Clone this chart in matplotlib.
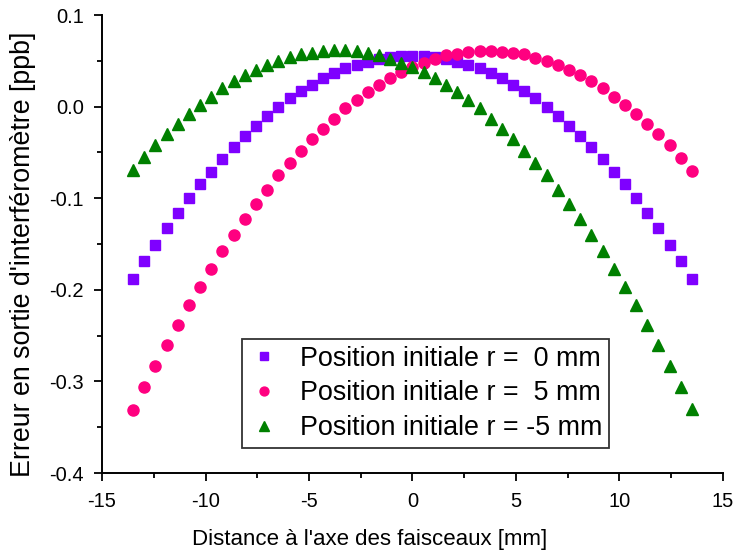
import numpy as np
import matplotlib.pyplot as plt
from matplotlib.ticker import MultipleLocator, FormatStrFormatter

# distance to beam axis [mm]
x_mm = [-13.5, -12.96, -12.42, -11.88, -11.34, -10.8, -10.26, -9.72, -9.18, -8.64,
        -8.1, -7.56, -7.02, -6.48, -5.94, -5.4, -4.86, -4.32, -3.78, -3.24,
        -2.7, -2.16, -1.62, -1.08, -0.54, 0.0, 0.54, 1.08, 1.62, 2.16,
        2.7, 3.24, 3.78, 4.32, 4.86, 5.4, 5.94, 6.48, 7.02, 7.56,
        8.1, 8.64, 9.18, 9.72, 10.26, 10.8, 11.34, 11.88, 12.42, 12.96, 13.5]

# interferometer output error [ppb]
err_r0 = [-0.188, -0.169, -0.151, -0.133, -0.116, -0.100, -0.085, -0.071, -0.057, -0.044,
          -0.032, -0.021, -0.010, 0.000, 0.009, 0.017, 0.024, 0.031, 0.037, 0.042,
          0.045, 0.049, 0.052, 0.054, 0.055, 0.0555, 0.055, 0.054, 0.052, 0.049,
          0.045, 0.042, 0.037, 0.031, 0.024, 0.017, 0.009, 0.000, -0.010, -0.021,
          -0.032, -0.044, -0.057, -0.071, -0.085, -0.100, -0.116, -0.133, -0.151, -0.169, -0.188]

err_r5 = [-0.331, -0.306, -0.283, -0.260, -0.238, -0.217, -0.197, -0.177, -0.158, -0.140,
          -0.123, -0.106, -0.091, -0.075, -0.061, -0.048, -0.035, -0.024, -0.013, -0.002,
          0.007, 0.016, 0.024, 0.031, 0.038, 0.043, 0.048, 0.052, 0.056, 0.058,
          0.060, 0.061, 0.061, 0.060, 0.059, 0.057, 0.053, 0.050, 0.045, 0.040,
          0.034, 0.028, 0.020, 0.011, 0.002, -0.008, -0.019, -0.030, -0.042, -0.056, -0.070]

err_rm5 = [-0.069, -0.055, -0.042, -0.030, -0.019, -0.008, 0.002, 0.011, 0.020, 0.028,
           0.035, 0.040, 0.045, 0.050, 0.054, 0.057, 0.059, 0.061, 0.062, 0.062,
           0.061, 0.059, 0.056, 0.052, 0.048, 0.043, 0.038, 0.031, 0.024, 0.016,
           0.007, -0.002, -0.013, -0.024, -0.035, -0.048, -0.061, -0.075, -0.091, -0.106,
           -0.123, -0.140, -0.158, -0.177, -0.197, -0.217, -0.238, -0.260, -0.283, -0.306, -0.330]

labels = ["Position initiale r =  0 mm",
          "Position initiale r =  5 mm",
          "Position initiale r = -5 mm"]

plt.rcParams['font.family'] = ['Liberation Sans', 'DejaVu Sans']

fig = plt.figure(figsize=(7.37, 5.55), dpi=100)
ax = fig.add_axes([0.1384, 0.1477, 0.8426, 0.8252])

ax.plot(x_mm, err_r0, linestyle='none', marker='s', markersize=7,
        color='#7F00FF', label=labels[0])
ax.plot(x_mm, err_r5, linestyle='none', marker='o', markersize=8,
        color='#FF0080', label=labels[1])
ax.plot(x_mm, err_rm5, linestyle='none', marker='^', markersize=9,
        color='#008000', label=labels[2])

ax.set_xlim(-15, 15)
ax.set_ylim(-0.4, 0.1)
ax.xaxis.set_major_locator(MultipleLocator(5))
ax.xaxis.set_minor_locator(MultipleLocator(2.5))
ax.yaxis.set_major_locator(MultipleLocator(0.1))
ax.yaxis.set_minor_locator(MultipleLocator(0.05))
ax.yaxis.set_major_formatter(FormatStrFormatter('%.1f'))
ax.xaxis.set_major_formatter(FormatStrFormatter('%d'))

for side in ['top', 'right']:
    ax.spines[side].set_visible(False)
for side in ['left', 'bottom']:
    ax.spines[side].set_linewidth(1.4)

ax.tick_params(which='both', direction='out', width=1.3, labelsize=14.5, colors='black')
ax.tick_params(which='major', length=6)
ax.tick_params(which='minor', length=3.6)
ax.tick_params(axis='x', which='major', pad=8)
ax.tick_params(axis='y', which='major', pad=7)

ax.set_xlabel("Distance à l'axe des faisceaux [mm]", fontsize=16)
ax.set_ylabel("Erreur en sortie d'interféromètre [ppb]", fontsize=19.3)
ax.xaxis.set_label_coords(0.4316, -0.122)
ax.yaxis.set_label_coords(-0.106, 0.477)

leg = ax.legend(loc='lower left', bbox_to_anchor=(0.2254, 0.0546), borderaxespad=0,
                fontsize=19.4, frameon=True, fancybox=False, edgecolor='black',
                markerscale=0.8, handlelength=1.1, handletextpad=0.8,
                borderpad=0.25, labelspacing=0.33)
leg.get_frame().set_linewidth(1.3)

fig.savefig("out.png", dpi=100)
